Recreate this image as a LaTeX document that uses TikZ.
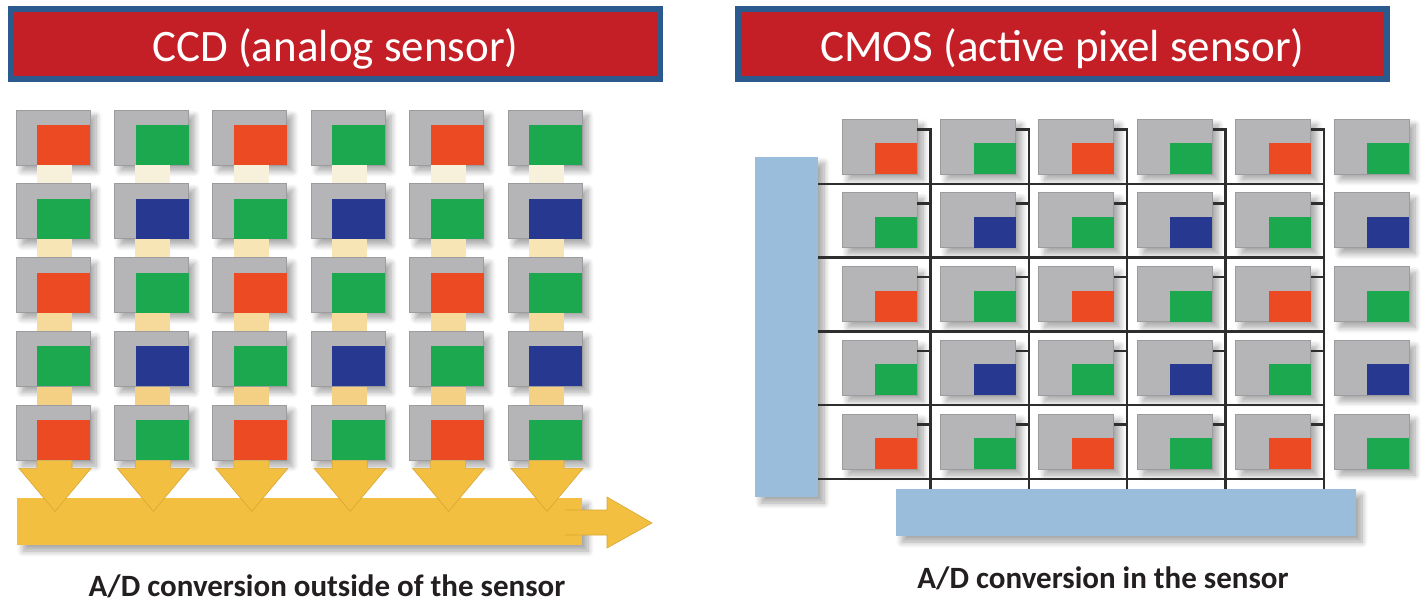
\documentclass[tikz,border=0pt]{standalone}
\usepackage{fontspec}
\setmainfont{Carlito}
\usepackage{tikz}
\usetikzlibrary{shadows.blur}

\definecolor{titlered}{HTML}{C41F26}
\definecolor{titleblue}{HTML}{2B5B8E}
\definecolor{pixgray}{HTML}{B5B5B7}
\definecolor{pixedge}{HTML}{9C9C9E}
\definecolor{pxred}{HTML}{EC4A22}
\definecolor{pxgreen}{HTML}{1BA84E}
\definecolor{pxblue}{HTML}{26388F}
\definecolor{adyellow}{HTML}{F2BF40}
\definecolor{adedge}{HTML}{D9A634}
\definecolor{busblue}{HTML}{9ABDDB}
\definecolor{wiregray}{HTML}{2E2E2E}
\definecolor{labeltext}{HTML}{231F20}
\definecolor{link1}{HTML}{F7F0DA}
\definecolor{link2}{HTML}{F7E5B6}
\definecolor{link3}{HTML}{F5DA9C}
\definecolor{link4}{HTML}{F3D083}

\tikzset{
    softshadow/.style={blur shadow={shadow xshift=6pt, shadow yshift=-6pt, shadow blur radius=6pt, shadow blur steps=8, shadow opacity=35}},
    titlebox/.style={fill=titlered, draw=titleblue, line width=6pt, minimum width=649pt, minimum height=70pt, inner sep=0pt},
    titletext/.style={text=white, font=\fontsize{45}{50}\selectfont, anchor=base},
    ccdpix/.style={fill=pixgray, draw=pixedge, line width=0.8pt, minimum width=74pt, minimum height=55pt, inner sep=0pt, softshadow},
    cmospix/.style={fill=pixgray, draw=pixedge, line width=0.8pt, minimum width=75pt, minimum height=55pt, inner sep=0pt, softshadow},
    colorsq/.style={draw=none, inner sep=0pt, anchor=south east},
    adarrow/.style={fill=adyellow, draw=adedge, line width=0.6pt, line join=miter},
    bus/.style={fill=busblue, draw=none, inner sep=0pt, softshadow},
    wire/.style={draw=wiregray, line width=2.5pt},
    caption/.style={text=labeltext, font=\bfseries\fontsize{31}{36}\selectfont, anchor=base}
}

\begin{document}
\begin{tikzpicture}[x=1pt, y=-1pt]
    \useasboundingbox (0,0) rectangle (1421,601);

    % Title bars
    \node[titlebox] (ccdtitle) at (335.5,44) {};
    \node[titletext] at (335.5,62) {CCD (analog sensor)};
    \node[titlebox] (cmostitle) at (1062.5,44) {};
    \node[titletext] at (1062.5,62) {CMOS (active pixel sensor)};

    % CCD: pixel cells
    \foreach \r/\ca/\cb in {1/pxred/pxgreen, 2/pxgreen/pxblue, 3/pxred/pxgreen, 4/pxgreen/pxblue, 5/pxred/pxgreen} {
        \foreach \c in {1,...,6} {
            \pgfmathsetmacro\px{53+98.4*(\c-1)}
            \pgfmathsetmacro\py{137.5+73.75*(\r-1)}
            \ifodd\c\relax \def\fc{\ca}\else \def\fc{\cb}\fi
            \node[ccdpix] (ccd-\r-\c) at (\px,\py) {};
            \node[colorsq, fill=\fc, minimum width=53pt, minimum height=40pt] at (ccd-\r-\c.south east) {};
        }
    }

    % CCD: charge transfer between cells
    \foreach \r/\s/\lc in {1/2/link1, 2/3/link2, 3/4/link3, 4/5/link4} {
        \foreach \c in {1,...,6} {
            \fill[\lc] ([xshift=-16pt]ccd-\r-\c.south) rectangle ([xshift=19pt]ccd-\s-\c.north);
        }
    }

    % CCD: readout register
    \fill[adyellow, softshadow] (17,498) rectangle (582,545);
    \draw[adarrow] (565,510) -- (607,510) -- (607,497) -- (652,523) -- (607,548) -- (607,535) -- (565,535);

    % CCD: down arrows into the register
    \foreach \c in {1,...,6} {
        \draw[adarrow, shift={(ccd-5-\c.south)}] (-16,0) -- (-16,8) -- (-34,8) -- (2,51) -- (38,8) -- (19,8) -- (19,0);
    }

    % CMOS: row and column circuits
    \node[bus, minimum width=63pt, minimum height=340pt] (rowbus) at (786.5,327) {};
    \node[bus, minimum width=460pt, minimum height=47pt] (colbus) at (1126,512.5) {};

    % CMOS: pixel cells
    \foreach \r/\ca/\cb in {1/pxred/pxgreen, 2/pxgreen/pxblue, 3/pxred/pxgreen, 4/pxgreen/pxblue, 5/pxred/pxgreen} {
        \foreach \c in {1,...,6} {
            \pgfmathsetmacro\px{879.5+98.4*(\c-1)}
            \pgfmathsetmacro\py{146.5+73.75*(\r-1)}
            \ifodd\c\relax \def\fc{\ca}\else \def\fc{\cb}\fi
            \node[cmospix] (cmos-\r-\c) at (\px,\py) {};
            \node[colorsq, fill=\fc, minimum width=42pt, minimum height=31pt] at (cmos-\r-\c.south east) {};
        }
    }

    % CMOS: column wires
    \foreach \c in {1,...,5} {
        \coordinate (wire-\c) at ([xshift=13pt, yshift=-11pt]cmos-1-\c.north east);
        \draw[wire] ([yshift=-11pt]cmos-1-\c.north east) -| (wire-\c |- colbus.north);
        \foreach \r in {2,...,5} {
            \draw[wire] ([yshift=-11pt]cmos-\r-\c.north east) -- ++(13,0);
        }
    }

    % CMOS: row wires
    \foreach \r in {1,...,5} {
        \coordinate (row-\r) at ([yshift=-9.5pt]cmos-\r-1.south);
        \draw[wire] (rowbus.east |- row-\r) -- (wire-5 |- row-\r);
    }

    % Captions
    \node[caption] (ccdcap) at (327,596) {A/D conversion outside of the sensor};
    \node[caption] (cmoscap) at (1103,588) {A/D conversion in the sensor};
\end{tikzpicture}
\end{document}
